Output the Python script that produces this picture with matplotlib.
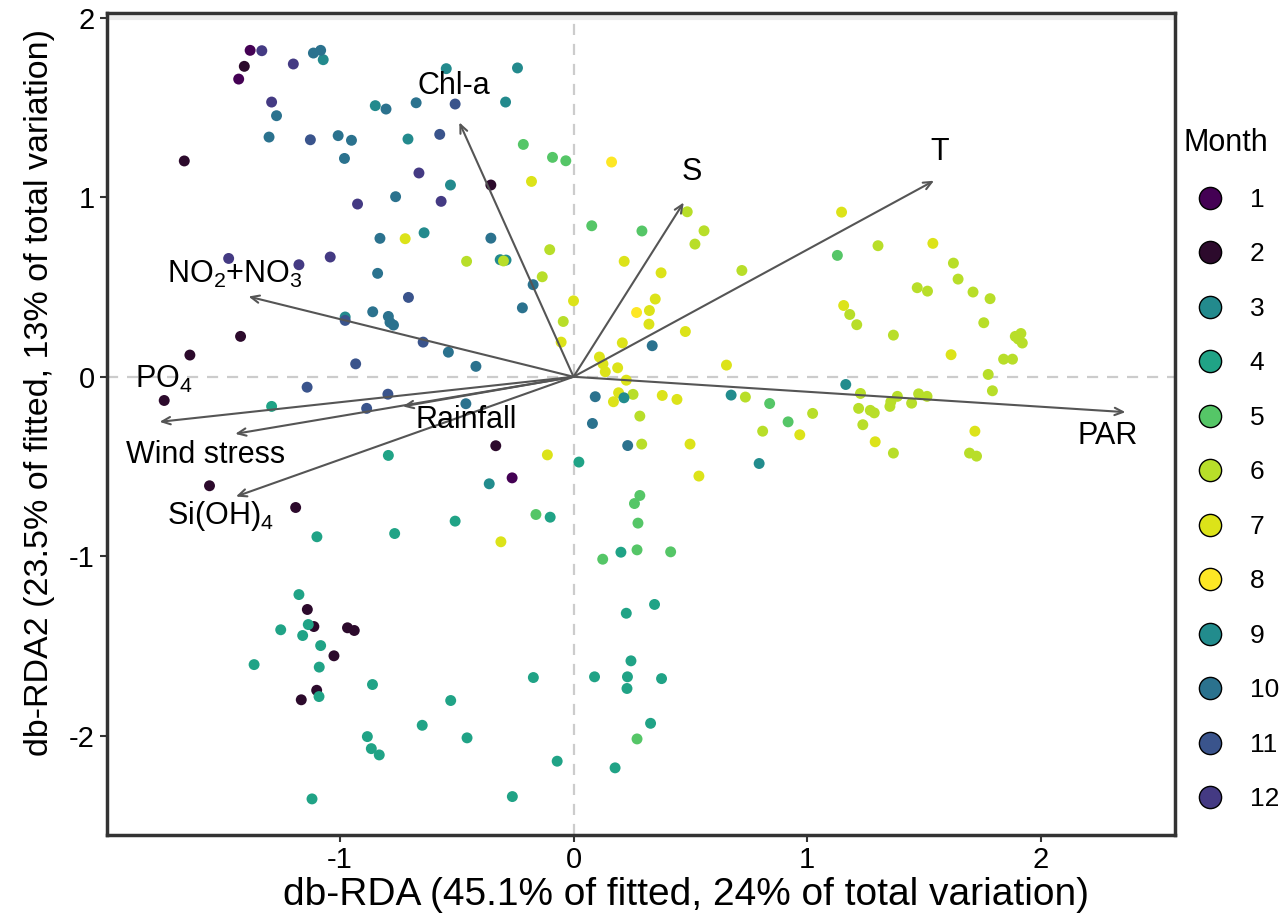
"""
db-RDA biplot: samples coloured by month, environmental vectors as arrows.
"""
import matplotlib
matplotlib.use("Agg")
import matplotlib.pyplot as plt
from matplotlib.lines import Line2D

plt.rcParams['font.family'] = ['Liberation Sans', 'DejaVu Sans']
plt.rcParams['mathtext.fontset'] = 'custom'
plt.rcParams['mathtext.rm'] = 'Liberation Sans'
plt.rcParams['mathtext.it'] = 'Liberation Sans'
plt.rcParams['axes.unicode_minus'] = False

# Sample scores (db-RDA1, db-RDA2) and month of each sample
rda1 = [
    -1.385, -1.335, -1.410, -1.434, -1.200, -1.114, -1.083, -1.072, -0.545, -0.240,
    -1.293, -1.272, -0.849, -0.803, -0.674, -0.507, -0.291, -1.304, -1.127, -1.008,
    -0.951, -0.709, -0.573, -0.215, -0.090, -0.033, -1.667, -0.981, -0.662, -0.527,
    -0.354, -0.180, -0.925, -0.762, -0.567, -0.829, -0.721, -0.640, -0.354, -0.102,
    -0.458, -0.300, -0.314, -0.289, -1.477, -1.176, -1.042, -0.839, -0.134, -0.173,
    0.000, -0.707, -0.219, -0.044, -0.053, -0.978, -0.978, -0.860, -0.793, -0.786,
    -0.771, -1.426, -1.643, -0.644, -0.536, -0.933, -0.418,
    0.163, 0.487, 0.559, 0.520, 0.078, 0.293, 0.217, 0.375, 0.721, 0.350,
    0.270, 0.325, 0.323, 0.479, 0.209, 0.337, 0.111, 0.126, 0.189, 0.136,
    0.655, 1.148, 1.304, 1.130, 1.539, 1.627, 1.647, 1.472, 1.516, 1.711,
    1.784, 1.157, 1.183, 1.213, 1.370, 1.757, 1.892, 1.916, 1.905, 1.922,
    1.617, 1.842, 1.880, 1.776,
    -1.753, -1.141, -0.795, -1.293, -0.886, -0.461, -0.333, -0.112, 0.023, -0.793,
    -1.559, -0.263, -0.361, -1.190, -0.161, -0.100, -0.507, -0.766, -1.099, -0.311,
    -1.176, -1.140, -1.254, -1.136, -1.112, -0.968, -0.939, -1.160, -1.083, -1.026,
    -1.368, -1.089, -0.861, -1.100, -1.090, -1.166, -0.172, -0.526, -0.648, -0.883,
    -0.456, -0.866, -0.832, -0.070, -1.120, -0.262,
    1.166, 1.794, 0.093, 0.216, 0.193, 0.171, 0.255, 0.226, 0.380, 0.443,
    0.675, 0.736, 0.840, 1.024, 0.919, 0.810, 0.969, 1.229, 1.221, 1.271,
    1.288, 1.239, 1.292, 1.370, 1.387, 1.359, 1.355, 1.448, 1.478, 1.514,
    1.719, 1.696, 1.726, 0.081, 0.232, 0.284, 0.292, 0.499, 0.795, 0.537,
    0.284, 0.261, 0.276, 0.272, 0.203, 0.416, 0.125, 0.347, 0.226, 0.246,
    0.090, 0.231, 0.377, 0.229, 0.330, 0.272, 0.178,
]
rda2 = [
    1.818, 1.816, 1.729, 1.658, 1.742, 1.803, 1.818, 1.766, 1.716, 1.720,
    1.530, 1.454, 1.510, 1.491, 1.526, 1.519, 1.530, 1.335, 1.320, 1.343,
    1.317, 1.324, 1.350, 1.294, 1.222, 1.203, 1.202, 1.216, 1.135, 1.068,
    1.068, 1.088, 0.962, 1.003, 0.977, 0.771, 0.769, 0.802, 0.772, 0.708,
    0.643, 0.645, 0.652, 0.650, 0.659, 0.624, 0.667, 0.576, 0.557, 0.513,
    0.423, 0.442, 0.384, 0.308, 0.193, 0.333, 0.314, 0.362, 0.336, 0.303,
    0.288, 0.225, 0.121, 0.193, 0.137, 0.072, 0.058,
    1.196, 0.919, 0.813, 0.739, 0.841, 0.812, 0.643, 0.579, 0.592, 0.433,
    0.358, 0.369, 0.293, 0.252, 0.189, 0.173, 0.110, 0.072, 0.050, 0.028,
    0.065, 0.917, 0.730, 0.676, 0.743, 0.633, 0.544, 0.496, 0.477, 0.472,
    0.435, 0.397, 0.347, 0.290, 0.232, 0.301, 0.225, 0.241, 0.210, 0.188,
    0.123, 0.098, 0.098, 0.013,
    -0.132, -0.058, -0.097, -0.165, -0.176, -0.150, -0.384, -0.435, -0.475, -0.438,
    -0.607, -0.563, -0.596, -0.728, -0.767, -0.782, -0.804, -0.873, -0.891, -0.919,
    -1.213, -1.296, -1.409, -1.380, -1.391, -1.398, -1.413, -1.441, -1.497, -1.554,
    -1.603, -1.617, -1.714, -1.746, -1.781, -1.799, -1.675, -1.803, -1.941, -2.004,
    -2.011, -2.071, -2.106, -2.141, -2.351, -2.338,
    -0.043, -0.078, -0.111, -0.117, -0.089, -0.139, -0.098, -0.019, -0.104, -0.126,
    -0.102, -0.113, -0.149, -0.204, -0.251, -0.303, -0.323, -0.093, -0.176, -0.187,
    -0.201, -0.267, -0.362, -0.425, -0.109, -0.139, -0.165, -0.147, -0.095, -0.109,
    -0.303, -0.425, -0.442, -0.260, -0.383, -0.219, -0.375, -0.375, -0.483, -0.553,
    -0.661, -0.706, -0.815, -0.964, -0.977, -0.975, -1.016, -1.268, -1.317, -1.582,
    -1.671, -1.671, -1.681, -1.736, -1.930, -2.017, -2.178,
]
month = [
    1, 12, 2, 1, 12, 10, 10, 3, 3, 3,
    12, 10, 3, 10, 10, 11, 3, 10, 11, 10,
    10, 3, 11, 5, 5, 5, 2, 10, 12, 3,
    2, 7, 12, 10, 12, 10, 7, 3, 10, 6,
    6, 6, 3, 3, 12, 12, 12, 10, 6, 10,
    7, 11, 10, 6, 7, 3, 11, 10, 10, 10,
    10, 2, 2, 11, 10, 11, 10,
    8, 6, 6, 6, 5, 5, 7, 7, 6, 7,
    8, 7, 7, 7, 7, 10, 7, 7, 7, 7,
    7, 7, 6, 5, 7, 6, 6, 6, 6, 6,
    6, 7, 6, 6, 6, 6, 6, 6, 6, 6,
    7, 6, 6, 6,
    2, 11, 11, 4, 11, 10, 2, 7, 4, 4,
    2, 1, 9, 2, 5, 4, 4, 4, 4, 7,
    4, 2, 4, 4, 2, 2, 2, 4, 4, 2,
    4, 4, 4, 2, 4, 2, 4, 4, 4, 4,
    4, 4, 4, 4, 4, 4,
    9, 6, 10, 9, 7, 7, 6, 7, 7, 7,
    9, 6, 5, 6, 5, 6, 7, 6, 6, 6,
    6, 6, 7, 6, 6, 6, 6, 6, 6, 6,
    7, 6, 6, 10, 10, 6, 6, 7, 9, 7,
    5, 5, 5, 5, 4, 5, 5, 4, 4, 4,
    4, 4, 4, 4, 4, 5, 4,
]

month_levels = list(range(1, 13))
month_colors = ['#440154', '#2c0a2c', '#238a8d', '#20a386', '#55c667', '#b8de29',
                '#dce319', '#fde725', '#228c8d', '#2b728e', '#3a548c', '#443a83']

# Environmental vectors: arrow tips and label positions
env_names = ['Chl-a', 'S', 'T', 'PAR', 'NO$_2$+NO$_3$', 'PO$_4$',
             'Wind stress', 'Si(OH)$_4$', 'Rainfall']
env_x = [-0.489, 0.472, 1.544, 2.364, -1.392, -1.773, -1.449, -1.446, -0.731]
env_y = [1.417, 0.971, 1.092, -0.197, 0.447, -0.251, -0.318, -0.667, -0.165]
label_x = [-0.512, 0.506, 1.569, 2.289, -1.449, -1.754, -1.577, -1.513, -0.461]
label_y = [1.617, 1.138, 1.250, -0.329, 0.568, -0.017, -0.435, -0.778, -0.240]

xlabel = 'db-RDA (45.1% of fitted, 24% of total variation)'
ylabel = 'db-RDA2 (23.5% of fitted, 13% of total variation)'

fig = plt.figure(figsize=(12.85, 9.18), dpi=100)
ax = fig.add_axes([107 / 1285, 1 - 835 / 918, 1068 / 1285, 822 / 918])

# reference lines
ax.axhline(2, color='#ebebeb', lw=3, zorder=0)
ax.axhline(0, color='#cccccc', lw=1.6, ls=(0, (5, 4)), zorder=1)
ax.axvline(0, color='#cccccc', lw=1.6, ls=(0, (5, 4)), zorder=1)

# samples, one layer per month (legend order)
for m, c in zip(month_levels, month_colors):
    xs = [x for x, mm in zip(rda1, month) if mm == m]
    ys = [y for y, mm in zip(rda2, month) if mm == m]
    ax.scatter(xs, ys, s=62, color=c, edgecolors='none', zorder=2)

# arrows and labels
for name, ex, ey, lx, ly in zip(env_names, env_x, env_y, label_x, label_y):
    ax.annotate('', xy=(ex, ey), xytext=(0, 0),
                arrowprops=dict(arrowstyle='->,head_length=0.5,head_width=0.22',
                                color='#555555', lw=1.5, shrinkA=0, shrinkB=0,
                                mutation_scale=12), zorder=3)
    ax.text(lx, ly, name, ha='center', va='center', fontsize=22, color='black', zorder=4)

ax.set_xlim(-1.998, 2.576)
ax.set_ylim(-2.552, 2.026)
ax.set_xticks([-1, 0, 1, 2])
ax.set_yticks([-2, -1, 0, 1, 2])
ax.tick_params(axis='both', labelsize=21, length=5, width=1.5, color='#333333',
               labelcolor='black')
ax.tick_params(axis='x', pad=3)
ax.tick_params(axis='y', pad=4)
for sp in ax.spines.values():
    sp.set_linewidth(2.5)
    sp.set_color('#333333')

ax.set_xlabel(xlabel, fontsize=28)
ax.xaxis.set_label_coords(0.542, -0.051, transform=ax.transAxes)
ax.set_ylabel(ylabel, fontsize=24.5)
ax.yaxis.set_label_coords(-0.049, 0.538, transform=ax.transAxes)

# legend
fig.text(1183 / 1285, 1 - 143 / 918, 'Month', fontsize=22, ha='left', va='center')
handles = [Line2D([], [], ls='none', marker='o', markersize=16, markerfacecolor=c,
                  markeredgecolor='black', markeredgewidth=1.0) for c in month_colors]
fig.legend(handles, [str(m) for m in month_levels],
           loc='upper left', bbox_to_anchor=(1197 / 1285, 1 - 188 / 918),
           frameon=False, fontsize=19, borderpad=0, borderaxespad=0,
           handlelength=1.0, handletextpad=1.0, labelspacing=1.155)

fig.savefig('out.png', dpi=100)
plt.close(fig)
